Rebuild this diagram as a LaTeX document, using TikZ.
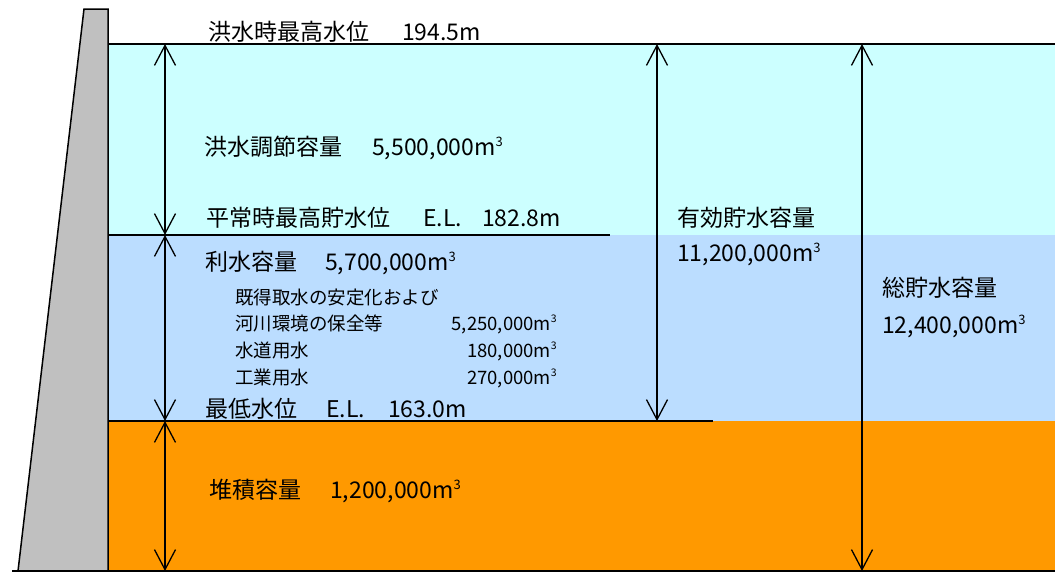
\documentclass[tikz,border=0pt]{standalone}
\usepackage{fontspec}
\setmainfont{Noto Sans CJK JP}
\usetikzlibrary{arrows.meta}
\definecolor{floodc}{HTML}{CCFFFF}
\definecolor{usec}{HTML}{BBDDFF}
\definecolor{sedc}{HTML}{FF9900}
\definecolor{damc}{HTML}{C0C0C0}
\newcommand\mcube{m\raisebox{0.4em}{\fontsize{13}{13}\selectfont 3}}
\newcommand\mcubes{m\raisebox{0.4em}{\fontsize{10.5}{10.5}\selectfont 3}}
\tikzset{
  big/.style={anchor=base west, inner sep=0pt, font=\fontsize{23}{23}\selectfont},
  small/.style={anchor=base west, inner sep=0pt, font=\fontsize{18.5}{18.5}\selectfont},
  smallr/.style={anchor=base east, inner sep=0pt, font=\fontsize{18.5}{18.5}\selectfont},
  level/.style={line width=1.5pt},
  dim/.style={line width=1.3pt, {Straight Barb[length=20pt,width=21pt]}-{Straight Barb[length=20pt,width=21pt]}},
}
\begin{document}
\begin{tikzpicture}[x=1pt,y=-1pt]
\useasboundingbox (0,0) rectangle (1055,573);
% water bodies
\fill[floodc] (108,44) rectangle (1055,235);
\fill[usec] (108,235) rectangle (1055,421);
\fill[sedc] (108,421) rectangle (1055,571);
% level lines
\coordinate (hwl) at (108,44);  \coordinate (hwr) at (1055,44);
\coordinate (nwl) at (108,235); \coordinate (nwr) at (610,235);
\coordinate (lwl) at (108,421); \coordinate (lwr) at (713,421);
\coordinate (bl) at (12,571);   \coordinate (br) at (1055,571);
\draw[level] (hwl) -- (hwr);
\draw[level] (nwl) -- (nwr);
\draw[level] (lwl) -- (lwr);
% dam
\draw[fill=damc, line width=1.5pt, line join=miter] (18,571) -- (84,9) -- (108,9) -- (108,571) -- cycle;
\draw[line width=2.5pt] (bl) -- (br);
% dimension arrows
\coordinate (a1) at (165,44);
\coordinate (a2) at (165,235);
\coordinate (a3) at (165,421);
\coordinate (a4) at (165,571);
\coordinate (b1) at (657,44);
\coordinate (b2) at (657,421);
\coordinate (c1) at (862,44);
\coordinate (c2) at (862,571);
\draw[dim] (a1) -- (a2);
\draw[dim] (a2) -- (a3);
\draw[dim] (a3) -- (a4);
\draw[dim] (b1) -- (b2);
\draw[dim] (c1) -- (c2);
% texts
\node[big] (t1) at (208,40.5) {洪水時最高水位};
\node[big] (v1) at (402,40.5) {194.5m};
\node[big] (t2) at (204,155.5) {洪水調節容量};
\node[big] (v2) at (372,155.5) {5,500,000\mcube};
\node[big] (t3) at (206,226.5) {平常時最高貯水位};
\node[big] (v3a) at (423,226.5) {E.L.};
\node[big] (v3b) at (482,226.5) {182.8m};
\node[big] (t4) at (205,270.5) {利水容量};
\node[big] (v4) at (325,270.5) {5,700,000\mcube};
\node[small] (s1) at (235,304) {既得取水の安定化および};
\node[small] (s2) at (235,330) {河川環境の保全等};
\node[smallr] (s2v) at (557,330) {5,250,000\mcubes};
\node[small] (s3) at (235,357) {水道用水};
\node[smallr] (s3v) at (557,357) {180,000\mcubes};
\node[small] (s4) at (235,384) {工業用水};
\node[smallr] (s4v) at (557,384) {270,000\mcubes};
\node[big] (t5) at (205,417.5) {最低水位};
\node[big] (v5a) at (326,417.5) {E.L.};
\node[big] (v5b) at (388,417.5) {163.0m};
\node[big] (t6) at (209,498.5) {堆積容量};
\node[big] (v6) at (330,498.5) {1,200,000\mcube};
\node[big] (t7) at (677,226.5) {有効貯水容量};
\node[big] (v7) at (677,261.5) {11,200,000\mcube};
\node[big] (t8) at (882,296.5) {総貯水容量};
\node[big] (v8) at (882,333.5) {12,400,000\mcube};
\end{tikzpicture}
\end{document}
